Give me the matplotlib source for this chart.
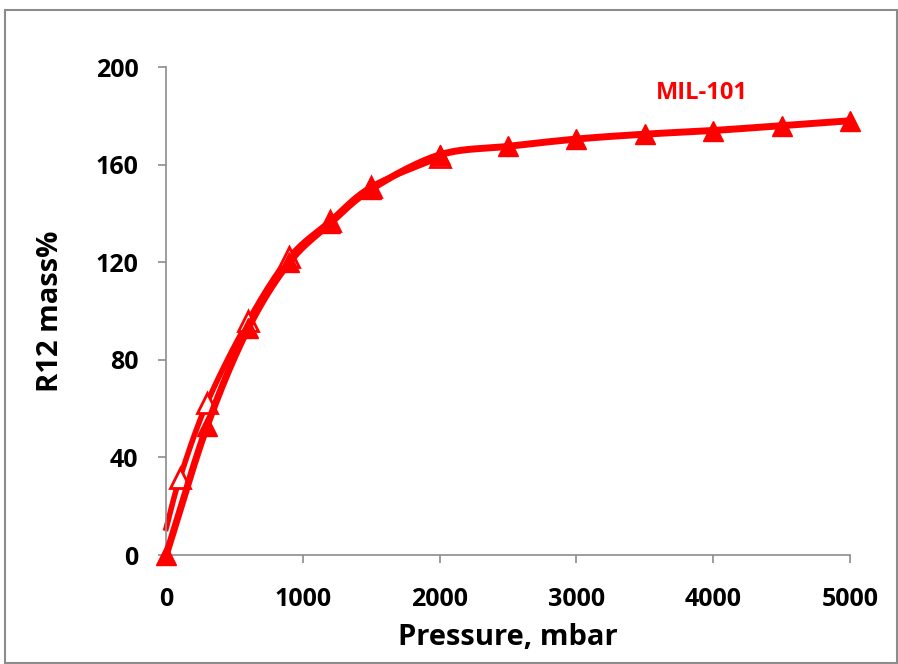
import numpy as np
import matplotlib.pyplot as plt
from matplotlib.patches import Rectangle

# adsorption branch (filled triangles)
ads_p = [0, 300, 600, 900, 1200, 1500, 2000, 2500, 3000, 3500, 4000, 4500, 5000]
ads_q = [0, 53, 93, 120, 136, 150, 164, 167.5, 170.5, 172.5, 174, 176, 178]

# desorption branch (open triangles)
des_p = [2000, 1500, 1200, 900, 600, 300, 100, 0]
des_q = [163, 151, 137, 122, 96, 62.5, 31.5, 11]

xticks = [0, 1000, 2000, 3000, 4000, 5000]
yticks = [0, 40, 80, 120, 160, 200]


def smooth(x, y, n=20):
    # catmull-rom, close to Excel's smoothed line
    x = np.asarray(x, float)
    y = np.asarray(y, float)
    px = np.concatenate([[2 * x[0] - x[1]], x, [2 * x[-1] - x[-2]]])
    py = np.concatenate([[2 * y[0] - y[1]], y, [2 * y[-1] - y[-2]]])
    xs, ys = [], []
    t = np.linspace(0, 1, n)
    for i in range(1, len(px) - 2):
        for arr, out in ((px, xs), (py, ys)):
            p0, p1, p2, p3 = arr[i - 1], arr[i], arr[i + 1], arr[i + 2]
            out.extend(0.5 * (2 * p1 + (-p0 + p2) * t + (2 * p0 - 5 * p1 + 4 * p2 - p3) * t ** 2
                              + (-p0 + 3 * p1 - 3 * p2 + p3) * t ** 3))
    return xs, ys


plt.rcParams['font.family'] = ['Open Sans', 'DejaVu Sans']

fig = plt.figure(figsize=(8.98, 6.64), dpi=100)
ax = fig.add_axes([0.185, 0.164, 0.7615, 0.735])

fig.patches.append(Rectangle((5 / 898, 1 / 664), 892 / 898, 653 / 664, transform=fig.transFigure,
                             fill=False, edgecolor='#8c8c8c', linewidth=1.5))

red = '#ff0000'
sx, sy = smooth(des_p, des_q)
ax.plot(sx, sy, color=red, linewidth=4, zorder=2)
ax.plot(des_p[:-1], des_q[:-1], linestyle='none', marker='^', markersize=15,
        markerfacecolor='white', markeredgecolor=red, markeredgewidth=2, zorder=3)

sx, sy = smooth(ads_p, ads_q)
ax.plot(sx, sy, color=red, linewidth=5, zorder=4)
ax.plot(ads_p, ads_q, linestyle='none', marker='^', markersize=15, color=red, zorder=5)

ax.text(3580, 187, 'MIL-101', color=red, fontsize=17, fontweight='bold')

ax.set_xlim(0, 5000)
ax.set_ylim(0, 200)
ax.set_xticks(xticks)
ax.set_yticks(yticks)
for s in ['top', 'right']:
    ax.spines[s].set_visible(False)
for s in ['left', 'bottom']:
    ax.spines[s].set_color('#8c8c8c')
    ax.spines[s].set_linewidth(1.2)
ax.tick_params(colors='#8c8c8c', labelcolor='black', length=6, width=1.2, labelsize=18)
ax.tick_params(axis='x', pad=17)
ax.tick_params(axis='y', pad=14)
for lab in ax.get_xticklabels() + ax.get_yticklabels():
    lab.set_fontweight('bold')
ax.set_xlabel('Pressure, mbar', fontsize=21, fontweight='bold', labelpad=8)
ax.set_ylabel('R12 mass%', fontsize=21, fontweight='bold', labelpad=22)
for a in ax.lines:
    a.set_clip_on(False)

plt.savefig('out.png', dpi=100)
